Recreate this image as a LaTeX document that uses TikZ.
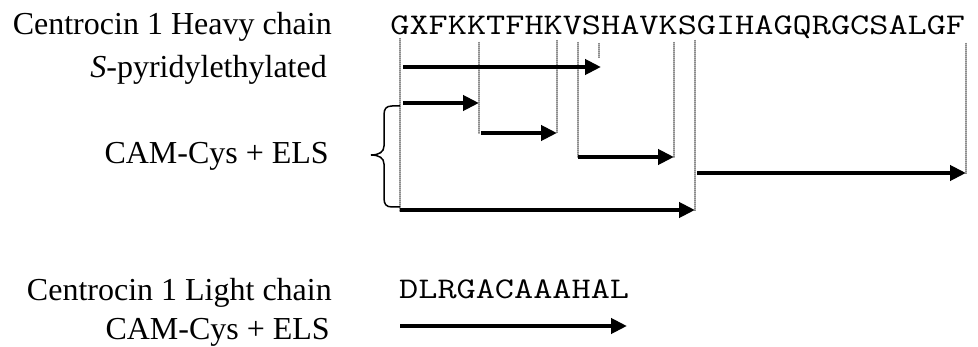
\documentclass[tikz,border=0pt]{standalone}
\usepackage{fontspec}
\setmainfont{Liberation Serif}
\usetikzlibrary{arrows.meta}
% typewriter sequence text, widened to a Courier-like pitch
\newcommand{\seqtext}[1]{\scalebox{1.24}[1]{\ttfamily\fontsize{30}{36}\selectfont #1}}
\begin{document}
\begin{tikzpicture}[x=1pt,y=-1pt,
  lbl/.style={inner sep=0pt,anchor=base east,font=\fontsize{32}{38}\selectfont},
  seq/.style={inner sep=0pt,anchor=base west},
  vline/.style={draw=gray!90,line width=2.4pt,dash pattern=on 1pt off 1pt,
                preaction={draw=gray!55,line width=2.4pt}},
  frag/.style={draw=black,line width=4.4pt,-{Triangle[length=16pt,width=15pt]}},
  bracepath/.style={draw=black,line width=1.5pt}]
\useasboundingbox (0,0) rectangle (978,347);

% labels
\node[lbl] (hc)  at (332,35)  {Centrocin 1 Heavy chain};
\node[lbl] (spe) at (327,78)  {\textit{S}-pyridylethylated};
\node[lbl] (cam) at (329,164) {CAM-Cys + ELS};
\node[lbl] (lc)  at (332,301) {Centrocin 1 Light chain};
\node[lbl] (cam2) at (330,340) {CAM-Cys + ELS};

% sequences
\node[seq] (hseq) at (390.2,35) {\seqtext{GXFKKTFHKVSHAVKSGIHAGQRGCSALGF}};
\node[seq] (lseq) at (399,299) {\seqtext{DLRGACAAAHAL}};

% cleavage-site markers
\coordinate (t0) at (400,38);  \coordinate (b0) at (400,212);
\coordinate (t1) at (479,42);  \coordinate (b1) at (479,134);
\coordinate (t2) at (557,40);  \coordinate (b2) at (557,133);
\coordinate (t3) at (578,42);  \coordinate (b3) at (578,158);
\coordinate (t4) at (599,43);  \coordinate (b4) at (599,58);
\coordinate (t5) at (674,42);  \coordinate (b5) at (674,158);
\coordinate (t6) at (695,40);  \coordinate (b6) at (695,211);
\coordinate (t7) at (966,43);  \coordinate (b7) at (966,174);
\foreach \i in {0,...,7} \draw[vline] (t\i) -- (b\i);

% fragment arrows
\coordinate (a1s) at (403,67);  \coordinate (a1e) at (601,67);
\coordinate (a2s) at (403,103); \coordinate (a2e) at (479,103);
\coordinate (a3s) at (481,133); \coordinate (a3e) at (557,133);
\coordinate (a4s) at (578,157); \coordinate (a4e) at (674,157);
\coordinate (a5s) at (697,173); \coordinate (a5e) at (966,173);
\coordinate (a6s) at (400,210); \coordinate (a6e) at (695,210);
\coordinate (a7s) at (400,326); \coordinate (a7e) at (627,326);
\foreach \i in {1,...,7} \draw[frag] (a\i s) -- (a\i e);

% brace grouping the CAM-Cys + ELS fragments
\coordinate (brt) at (400,106);
\coordinate (brb) at (400,207);
\path[bracepath] (brt) -- (392,106)
  .. controls (386,106) and (384,109) .. (384,115) -- (384,146)
  .. controls (384,152) and (379,155) .. (371,155)
  .. controls (379,155) and (384,158) .. (384,164) -- (384,198)
  .. controls (384,204) and (386,207) .. (392,207) -- (brb);
\end{tikzpicture}
\end{document}
